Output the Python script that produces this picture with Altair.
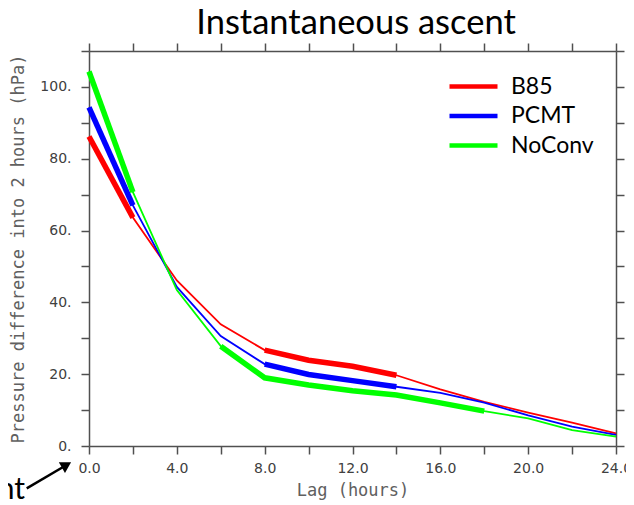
import altair as alt
import pandas as pd

lags = [0, 2, 4, 6, 8, 10, 12, 14, 16, 18, 20, 22, 24]
series_names = ["B85", "PCMT", "NoConv"]
b85 = [86.2, 63.6, 46.1, 33.9, 26.7, 23.9, 22.2, 19.7, 15.8, 12.3, 9.3, 6.5, 3.5]
pcmt = [94.3, 67.0, 44.3, 30.6, 22.8, 19.9, 18.2, 16.5, 14.8, 12.1, 8.5, 5.4, 3.1]
noconv = [104.3, 70.7, 43.4, 27.8, 19.0, 17.0, 15.4, 14.2, 12.0, 9.7, 7.7, 4.4, 2.6]
thick_ranges = {
    "B85": [(0, 2), (8, 14)],
    "PCMT": [(0, 2), (8, 14)],
    "NoConv": [(0, 2), (6, 18)],
}
colors = ["#ff0000", "#0000ff", "#00ff00"]
x_ticks = list(range(0, 25, 2))
y_ticks = list(range(0, 111, 10))
title_text = "Instantaneous ascent"

rows, thick_rows = [], []
for name, vals in zip(series_names, [b85, pcmt, noconv]):
    for lag, v in zip(lags, vals):
        rows.append({"series": name, "lag": lag, "value": v})
        for i, (a, b) in enumerate(thick_ranges[name]):
            if a <= lag <= b:
                thick_rows.append({"series": name, "lag": lag, "value": v, "seg": f"{name}-{i}"})
df = pd.DataFrame(rows)
dft = pd.DataFrame(thick_rows)

GREY = "#505050"
LBL = "#404040"
xscale = alt.Scale(domain=[0, 24], nice=False)
yscale = alt.Scale(domain=[0, 110], nice=False)
cscale = alt.Scale(domain=series_names, range=colors)

x_bottom = alt.Axis(values=x_ticks, labelExpr="datum.value % 4 == 0 ? format(datum.value, '.1f') : ''",
                    title="Lag (hours)", grid=False, labelFlush=False, labelOverlap=False,
                    tickSize=8, labelPadding=7, titlePadding=7)
y_left = alt.Axis(values=y_ticks, labelExpr="datum.value % 20 == 0 ? format(datum.value, 'd') + '.' : ''",
                  title="Pressure difference into 2 hours (hPa)", grid=False, labelOverlap=False,
                  tickSize=8, labelPadding=10, titlePadding=12)
x_top = alt.Axis(orient="top", values=x_ticks, labels=False, title=None, grid=False, tickSize=8)
y_right = alt.Axis(orient="right", values=y_ticks, labels=False, title=None, grid=False, tickSize=8)

thin = alt.Chart(df).mark_line(strokeWidth=1.8).encode(
    x=alt.X("lag:Q", scale=xscale, axis=x_bottom),
    y=alt.Y("value:Q", scale=yscale, axis=y_left),
    color=alt.Color("series:N", scale=cscale, sort=series_names,
                    legend=alt.Legend(orient="none", legendX=370, legendY=21, title=None,
                                      symbolType="M-2,0H2", symbolSize=576, symbolStrokeWidth=4.5,
                                      labelFont="Lato", labelFontSize=23, labelColor="black",
                                      rowPadding=2.5, labelOffset=23, padding=0)),
    order=alt.Order("lag:Q"),
)

thick = alt.Chart(dft).mark_line(strokeWidth=5.5, strokeCap="butt").encode(
    x=alt.X("lag:Q", scale=xscale, axis=x_top),
    y=alt.Y("value:Q", scale=yscale, axis=y_right),
    color=alt.Color("series:N", scale=cscale, sort=series_names, legend=None),
    detail="seg:N",
    order=alt.Order("lag:Q"),
)

anno = pd.DataFrame({"a": [0]})
title = alt.Chart(anno).mark_text(text=title_text, font="Lato", fontSize=34.5, align="center",
                                  baseline="alphabetic", color="black").encode(
    x=alt.value(267), y=alt.value(-17.4))
txt = alt.Chart(anno).mark_text(text="nt", font="Lato", fontSize=30, align="right",
                                baseline="alphabetic", color="black").encode(
    x=alt.value(-64), y=alt.value(448))
arrow = alt.Chart(anno).mark_rule(color="black", strokeWidth=2.5).encode(
    x=alt.value(-62.3), y=alt.value(437.3), x2=alt.value(-22.5), y2=alt.value(414))
head = alt.Chart(anno).mark_point(shape="triangle-up", filled=True, color="black",
                                  size=150, angle=60, opacity=1).encode(
    x=alt.value(-22.5), y=alt.value(414))

chart = alt.layer(thin, thick, title, txt, arrow, head).resolve_axis(
    x="independent", y="independent"
).properties(
    width=527, height=395,
    autosize=alt.AutoSizeParams(type="none"),
    padding={"left": 81, "top": 43, "right": 10, "bottom": 59},
).configure_axis(
    domainColor=GREY, domainWidth=1.5, tickColor=GREY, tickWidth=1.5,
    labelFont="DejaVu Sans", labelFontSize=14, labelColor=LBL,
    titleFont="DejaVu Sans Mono", titleFontSize=17, titleColor="#606060", titleFontWeight="normal",
).configure_view(stroke=None)

chart.save("out.html", embed_options={"renderer": "svg", "actions": False})
